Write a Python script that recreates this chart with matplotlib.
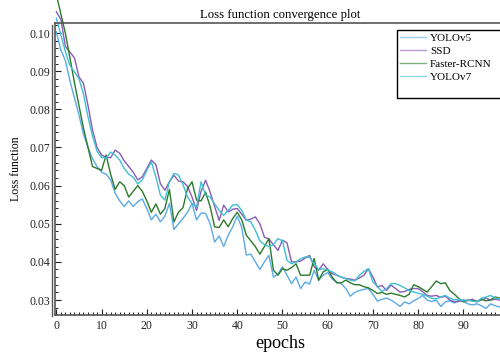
import numpy as np
import matplotlib
matplotlib.use('Agg')
import matplotlib.pyplot as plt
from matplotlib.lines import Line2D
from matplotlib.ticker import MultipleLocator

plt.rcParams['font.family'] = ['Liberation Serif', 'DejaVu Serif']

epochs = list(range(100))

yolov5 = [0.1003, 0.0955, 0.0928, 0.0875, 0.0830, 0.0785, 0.0735, 0.0700, 0.0670, 0.0650,
          0.0635, 0.0630, 0.0615, 0.0580, 0.0560, 0.0545, 0.0560, 0.0545, 0.0558, 0.0565,
          0.0540, 0.0510, 0.0525, 0.0505, 0.0520, 0.0553, 0.0485, 0.0500, 0.0514, 0.0530,
          0.0553, 0.0510, 0.0528, 0.0527, 0.0500, 0.0452, 0.0468, 0.0440, 0.0470, 0.0492,
          0.0520, 0.0490, 0.0418, 0.0420, 0.0400, 0.0380, 0.0400, 0.0417, 0.0360, 0.0368,
          0.0387, 0.0365, 0.0343, 0.0360, 0.0330, 0.0347, 0.0342, 0.0378, 0.0352, 0.0365,
          0.0372, 0.0355, 0.0347, 0.0343, 0.0330, 0.0310, 0.0320, 0.0325, 0.0328, 0.0330,
          0.0315, 0.0297, 0.0302, 0.0305, 0.0300, 0.0292, 0.0283, 0.0295, 0.0290, 0.0298,
          0.0304, 0.0312, 0.0300, 0.0296, 0.0300, 0.0283, 0.0295, 0.0298, 0.0292, 0.0300,
          0.0296, 0.0290, 0.0287, 0.0290, 0.0285, 0.0278, 0.0290, 0.0285, 0.0282, 0.0275]

ssd = [0.1056, 0.1035, 0.0965, 0.0950, 0.0935, 0.0885, 0.0868, 0.0810, 0.0745, 0.0700,
       0.0680, 0.0675, 0.0673, 0.0693, 0.0685, 0.0665, 0.0650, 0.0635, 0.0615, 0.0623,
       0.0645, 0.0667, 0.0655, 0.0605, 0.0588, 0.0610, 0.0627, 0.0612, 0.0610, 0.0598,
       0.0570, 0.0535, 0.0585, 0.0614, 0.0583, 0.0545, 0.0509, 0.0549, 0.0531, 0.0538,
       0.0540, 0.0525, 0.0509, 0.0512, 0.0518, 0.0500, 0.0465, 0.0460, 0.0445, 0.0430,
       0.0457, 0.0450, 0.0400, 0.0400, 0.0402, 0.0410, 0.0417, 0.0387, 0.0378, 0.0395,
       0.0380, 0.0369, 0.0365, 0.0360, 0.0356, 0.0355, 0.0352, 0.0358, 0.0365, 0.0382,
       0.0360, 0.0334, 0.0338, 0.0325, 0.0339, 0.0330, 0.0321, 0.0322, 0.0328, 0.0330,
       0.0330, 0.0322, 0.0312, 0.0310, 0.0312, 0.0307, 0.0310, 0.0300, 0.0295, 0.0296,
       0.0300, 0.0298, 0.0302, 0.0296, 0.0300, 0.0305, 0.0300, 0.0302, 0.0300, 0.0300]

faster_rcnn = [0.1100, 0.1050, 0.0999, 0.0935, 0.0870, 0.0810, 0.0750, 0.0700, 0.0650, 0.0645,
               0.0640, 0.0680, 0.0630, 0.0590, 0.0610, 0.0600, 0.0570, 0.0585, 0.0600, 0.0585,
               0.0560, 0.0530, 0.0552, 0.0525, 0.0540, 0.0590, 0.0505, 0.0530, 0.0542, 0.0592,
               0.0610, 0.0562, 0.0560, 0.0583, 0.0545, 0.0492, 0.0490, 0.0510, 0.0492, 0.0514,
               0.0530, 0.0510, 0.0470, 0.0455, 0.0440, 0.0420, 0.0440, 0.0461, 0.0378, 0.0365,
               0.0382, 0.0378, 0.0385, 0.0395, 0.0365, 0.0365, 0.0365, 0.0409, 0.0352, 0.0374,
               0.0380, 0.0360, 0.0345, 0.0345, 0.0352, 0.0345, 0.0340, 0.0340, 0.0335, 0.0332,
               0.0325, 0.0317, 0.0320, 0.0315, 0.0318, 0.0315, 0.0312, 0.0308, 0.0315, 0.0340,
               0.0335, 0.0328, 0.0321, 0.0335, 0.0350, 0.0343, 0.0345, 0.0325, 0.0315, 0.0304,
               0.0295, 0.0300, 0.0298, 0.0296, 0.0302, 0.0298, 0.0300, 0.0308, 0.0305, 0.0300]

yolov7 = [0.1039, 0.0995, 0.0951, 0.0915, 0.0898, 0.0880, 0.0840, 0.0780, 0.0730, 0.0690,
          0.0674, 0.0672, 0.0688, 0.0680, 0.0667, 0.0645, 0.0630, 0.0622, 0.0604, 0.0615,
          0.0640, 0.0662, 0.0623, 0.0575, 0.0562, 0.0610, 0.0632, 0.0628, 0.0603, 0.0570,
          0.0553, 0.0544, 0.0610, 0.0575, 0.0570, 0.0552, 0.0535, 0.0522, 0.0535, 0.0549,
          0.0550, 0.0535, 0.0510, 0.0505, 0.0483, 0.0455, 0.0445, 0.0440, 0.0445, 0.0461,
          0.0455, 0.0404, 0.0395, 0.0400, 0.0408, 0.0413, 0.0412, 0.0395, 0.0380, 0.0382,
          0.0378, 0.0374, 0.0366, 0.0360, 0.0356, 0.0352, 0.0350, 0.0365, 0.0375, 0.0382,
          0.0347, 0.0335, 0.0322, 0.0330, 0.0343, 0.0343, 0.0338, 0.0332, 0.0325, 0.0321,
          0.0318, 0.0315, 0.0310, 0.0304, 0.0303, 0.0308, 0.0312, 0.0305, 0.0300, 0.0302,
          0.0298, 0.0300, 0.0297, 0.0295, 0.0305, 0.0308, 0.0312, 0.0305, 0.0303, 0.0300]

series = [('YOLOv5', yolov5, '#5aaae6'),
          ('SSD', ssd, '#8a5cb5'),
          ('Faster-RCNN', faster_rcnn, '#2b7a2b'),
          ('YOLOv7', yolov7, '#3fc0d2')]

fig = plt.figure(figsize=(5, 3.6), dpi=100)
ax = fig.add_axes([0.11, 0.125, 0.9, 0.811])

for name, vals, col in series:
    ax.plot(epochs, vals, color=col, lw=1.0, label=name, clip_on=False)
# empty row at the bottom of the legend box
ax.plot([], [], color='none', label=' ')

ax.set_xlim(-0.3, 99.2)
ax.set_ylim(0.02607, 0.10262)
ax.xaxis.set_major_locator(MultipleLocator(10))
ax.xaxis.set_minor_locator(MultipleLocator(1))
ax.yaxis.set_major_locator(MultipleLocator(0.01))
ax.yaxis.set_minor_locator(MultipleLocator(0.002))
ax.yaxis.set_major_formatter(plt.FuncFormatter(lambda v, p: '%.2f' % v))

edge = '#555555'
for s in ['left', 'bottom', 'top']:
    ax.spines[s].set_color(edge)
    ax.spines[s].set_linewidth(1.2)
ax.spines['right'].set_visible(False)

ax.tick_params(which='both', direction='in', colors='#222222', labelsize=8.5,
               top=False, right=False)
ax.tick_params(which='major', length=4, width=0.8)
ax.tick_params(which='minor', length=2, width=0.7)

# second frame line on the left, Mathematica style
fig.add_artist(Line2D([52 / 500, 52 / 500], [1 - 316 / 360, 1 - 25 / 360],
                      color=edge, lw=1.0))

ax.set_title('Loss function convergence plot', fontsize=9.2, pad=3.5)
ax.set_xlabel('epochs', fontsize=13, labelpad=2)
ax.set_ylabel('Loss function', fontsize=8.5, labelpad=5)

leg = ax.legend(loc='upper left', bbox_to_anchor=(397 / 500, 1 - 30 / 360, 0.3, 0),
                bbox_transform=fig.transFigure, mode='expand',
                fontsize=8, frameon=True, fancybox=False, framealpha=1,
                edgecolor='black', handlelength=2.4, handletextpad=0.3,
                borderpad=0.25, borderaxespad=0, labelspacing=0.3)
leg.get_frame().set_linewidth(1.0)
for h in leg.get_lines():
    h.set_alpha(0.6)

fig.savefig('out.png', dpi=100)
